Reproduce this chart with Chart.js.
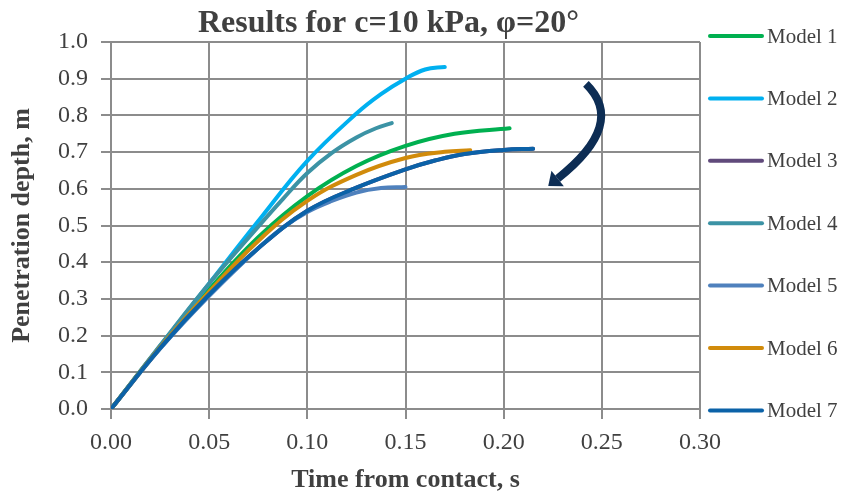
<!DOCTYPE html>
<html>
<head>
<meta charset="utf-8">
<title>Results for c=10 kPa, φ=20°</title>
<script src="https://cdn.jsdelivr.net/npm/chart.js@4.4.1/dist/chart.umd.min.js"></script>
<style>
  html, body { margin: 0; padding: 0; background: #ffffff; }
  #wrap { position: relative; width: 841px; height: 494px; }
</style>
</head>
<body>
<div id="wrap"><canvas id="penetration-chart"></canvas></div>
<script>
const chartTitle = "Results for c=10 kPa, φ=20°";
const xTitle = "Time from contact, s";
const yTitle = "Penetration depth, m";

const seriesNames = ["Model 1", "Model 2", "Model 3", "Model 4", "Model 5", "Model 6", "Model 7"];
const seriesColors = ["#00b050", "#00b0f0", "#604a7b", "#3c93a5", "#4f81bd", "#d18b0b", "#0b62a8"];

// time (s) / depth (m)
const timeModel1 = [0, 0.025, 0.05, 0.075, 0.1, 0.125, 0.15, 0.175, 0.203];
const depthModel1 = [0, 0.170, 0.326, 0.468, 0.580, 0.662, 0.717, 0.750, 0.765];

const timeModel2 = [0, 0.025, 0.05, 0.075, 0.1, 0.125, 0.1375, 0.15, 0.16, 0.17];
const depthModel2 = [0, 0.172, 0.342, 0.512, 0.676, 0.805, 0.858, 0.900, 0.925, 0.932];

// model 3 is hidden under model 7 in the picture
const timeModel3 = [0, 0.025, 0.05, 0.075, 0.1, 0.125, 0.15, 0.165, 0.18, 0.2, 0.215];
const depthModel3 = [0, 0.166, 0.312, 0.438, 0.540, 0.603, 0.653, 0.677, 0.695, 0.706, 0.709];

const timeModel4 = [0, 0.025, 0.05, 0.075, 0.0875, 0.1, 0.1125, 0.125, 0.135, 0.143];
const depthModel4 = [0, 0.173, 0.342, 0.497, 0.572, 0.643, 0.698, 0.740, 0.765, 0.779];

const timeModel5 = [0, 0.025, 0.05, 0.075, 0.0875, 0.1, 0.1125, 0.125, 0.1375, 0.15];
const depthModel5 = [0, 0.164, 0.308, 0.438, 0.494, 0.537, 0.567, 0.590, 0.602, 0.605];

const timeModel6 = [0, 0.025, 0.05, 0.075, 0.1, 0.125, 0.15, 0.17, 0.183];
const depthModel6 = [0, 0.168, 0.320, 0.458, 0.567, 0.638, 0.684, 0.701, 0.705];

const timeModel7 = [0, 0.025, 0.05, 0.075, 0.1, 0.125, 0.15, 0.165, 0.18, 0.2, 0.215];
const depthModel7 = [0, 0.166, 0.312, 0.438, 0.540, 0.603, 0.653, 0.677, 0.695, 0.706, 0.709];

const xTickValues = [0, 0.05, 0.10, 0.15, 0.20, 0.25, 0.30];
const yTickValues = [0, 0.1, 0.2, 0.3, 0.4, 0.5, 0.6, 0.7, 0.8, 0.9, 1.0];

// curved arrow, in data units (start, bend, end)
const arrowStart = [0.2419, 0.886];
const arrowBend = [0.2628, 0.777];
const arrowEnd = [0.2275, 0.628];

const times = [timeModel1, timeModel2, timeModel3, timeModel4, timeModel5, timeModel6, timeModel7];
const depths = [depthModel1, depthModel2, depthModel3, depthModel4, depthModel5, depthModel6, depthModel7];

const textColor = "#404040";
const gridColor = "#8c8c8c";
const serif = "'Liberation Serif', 'Times New Roman', serif";

const datasets = seriesNames.map((name, i) => ({
    label: name,
    data: times[i].map((t, k) => ({ x: t, y: depths[i][k] })),
    borderColor: seriesColors[i],
    backgroundColor: seriesColors[i],
    borderWidth: 4,
    borderCapStyle: "round",
    pointRadius: 0,
    tension: 0.4,
    fill: false,
    order: -i   // later series on top, like the original
}));

const overlay = {
    id: "overlay",
    afterDraw(chart) {
        const { ctx, chartArea, scales } = chart;
        ctx.save();

        // title
        ctx.font = "bold 32px " + serif;
        ctx.fillStyle = textColor;
        ctx.textAlign = "center";
        ctx.textBaseline = "alphabetic";
        ctx.fillText(chartTitle, (chartArea.left + chartArea.right) / 2 - 17, 32);

        // legend
        ctx.font = "21px " + serif;
        ctx.textAlign = "left";
        ctx.textBaseline = "middle";
        ctx.lineCap = "round";
        chart.data.datasets.forEach((ds, i) => {
            const y = 36 + i * 62.4;
            ctx.strokeStyle = ds.borderColor;
            ctx.lineWidth = 4;
            ctx.beginPath();
            ctx.moveTo(chartArea.right + 10, y);
            ctx.lineTo(chartArea.right + 62, y);
            ctx.stroke();
            ctx.fillStyle = textColor;
            ctx.fillText(ds.label, chartArea.right + 67, y + 1);
        });

        // arrow
        const px = p => [scales.x.getPixelForValue(p[0]), scales.y.getPixelForValue(p[1])];
        const s = px(arrowStart), b = px(arrowBend), e = px(arrowEnd);
        ctx.strokeStyle = "#0d2d54";
        ctx.fillStyle = "#0d2d54";
        ctx.lineWidth = 8;
        ctx.lineCap = "butt";
        ctx.beginPath();
        ctx.moveTo(s[0], s[1]);
        ctx.quadraticCurveTo(b[0], b[1], e[0], e[1]);
        ctx.stroke();
        let dx = e[0] - b[0], dy = e[1] - b[1];
        const len = Math.hypot(dx, dy);
        dx /= len; dy /= len;
        ctx.beginPath();
        ctx.moveTo(e[0] + dx * 12, e[1] + dy * 12);
        ctx.lineTo(e[0] - dy * 10, e[1] + dx * 10);
        ctx.lineTo(e[0] + dy * 10, e[1] - dx * 10);
        ctx.closePath();
        ctx.fill();

        ctx.restore();
    }
};

new Chart(document.getElementById("penetration-chart"), {
    type: "line",
    data: { datasets: datasets },
    options: {
        responsive: true,
        maintainAspectRatio: false,
        animation: false,
        devicePixelRatio: 1,
        layout: { padding: { top: 42, right: 141, left: 0, bottom: 0 } },
        plugins: {
            legend: { display: false },
            title: { display: false },
            tooltip: { enabled: false }
        },
        scales: {
            x: {
                type: "linear",
                min: 0,
                max: 0.3,
                afterBuildTicks: scale => { scale.ticks = xTickValues.map(v => ({ value: v })); },
                afterFit: scale => { scale.height = 85; },
                grid: { color: gridColor, lineWidth: 2, tickLength: 10 },
                border: { color: gridColor, width: 2 },
                ticks: {
                    color: textColor,
                    font: { family: serif, size: 24 },
                    padding: 9,
                    maxRotation: 0,
                    callback: v => v.toFixed(2)
                },
                title: {
                    display: true,
                    text: xTitle,
                    color: textColor,
                    font: { family: serif, size: 26, weight: "bold" },
                    padding: { top: 0, bottom: -2 }
                }
            },
            y: {
                type: "linear",
                min: 0,
                max: 1,
                afterBuildTicks: scale => { scale.ticks = yTickValues.map(v => ({ value: v })); },
                afterFit: scale => { scale.width = 111; },
                grid: { color: gridColor, lineWidth: 2, tickLength: 10 },
                border: { color: gridColor, width: 2 },
                ticks: {
                    color: textColor,
                    font: { family: serif, size: 24 },
                    padding: 13,
                    callback: v => v.toFixed(1)
                },
                title: {
                    display: true,
                    text: yTitle,
                    color: textColor,
                    font: { family: serif, size: 26, weight: "bold" },
                    padding: { top: 7, bottom: 0 }
                }
            }
        }
    },
    plugins: [overlay]
});
</script>
</body>
</html>
